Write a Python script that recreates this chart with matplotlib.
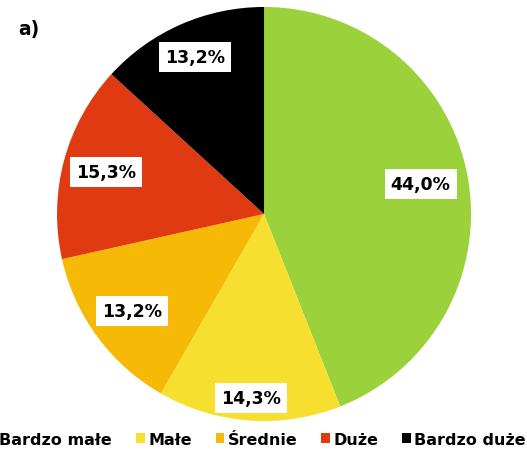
import matplotlib
matplotlib.use("Agg")
import matplotlib.pyplot as plt
import numpy as np
from matplotlib.patches import Patch

categories = ["Bardzo małe", "Małe", "Średnie", "Duże", "Bardzo duże"]
shares = [44.0, 14.3, 13.2, 15.3, 13.2]
value_labels = ["44,0%", "14,3%", "13,2%", "15,3%", "13,2%"]
colors = ["#9bd13a", "#f6df2e", "#f6b906", "#e03a13", "#000000"]

# radial position of each value label (fraction of radius)
label_radius = [0.77, 0.89, 0.79, 0.79, 0.83]

plt.rcParams["font.family"] = ["DejaVu Sans"]
plt.rcParams["font.weight"] = "bold"

fig = plt.figure(figsize=(5.27, 4.56), dpi=100)
ax = fig.add_axes([0.1082, 0.0746, 0.7856, 0.9079])

wedges, _ = ax.pie(shares, colors=colors, startangle=90, counterclock=False,
                   radius=1.0, wedgeprops=dict(linewidth=0))
ax.set_xlim(-1, 1)
ax.set_ylim(-1, 1)
ax.set_aspect("equal")
ax.axis("off")

for w, lab, r in zip(wedges, value_labels, label_radius):
    ang = np.deg2rad((w.theta1 + w.theta2) / 2)
    ax.text(r * np.cos(ang), r * np.sin(ang), lab, ha="center", va="center",
            fontsize=12.5, fontweight="bold", color="black",
            bbox=dict(boxstyle="square,pad=0.35", fc="white", ec="none"))

fig.text(0.035, 0.935, "a)", fontsize=13.5, fontweight="bold", ha="left", va="center")

handles = [Patch(facecolor=c, edgecolor="none") for c in colors]
fig.legend(handles, categories, loc="center", bbox_to_anchor=(0.487, 0.035),
           ncol=5, frameon=False, fontsize=11.5, handlelength=0.55,
           handleheight=0.55, handletextpad=0.2, columnspacing=1.5,
           borderaxespad=0)

fig.savefig("out.png", dpi=100)
